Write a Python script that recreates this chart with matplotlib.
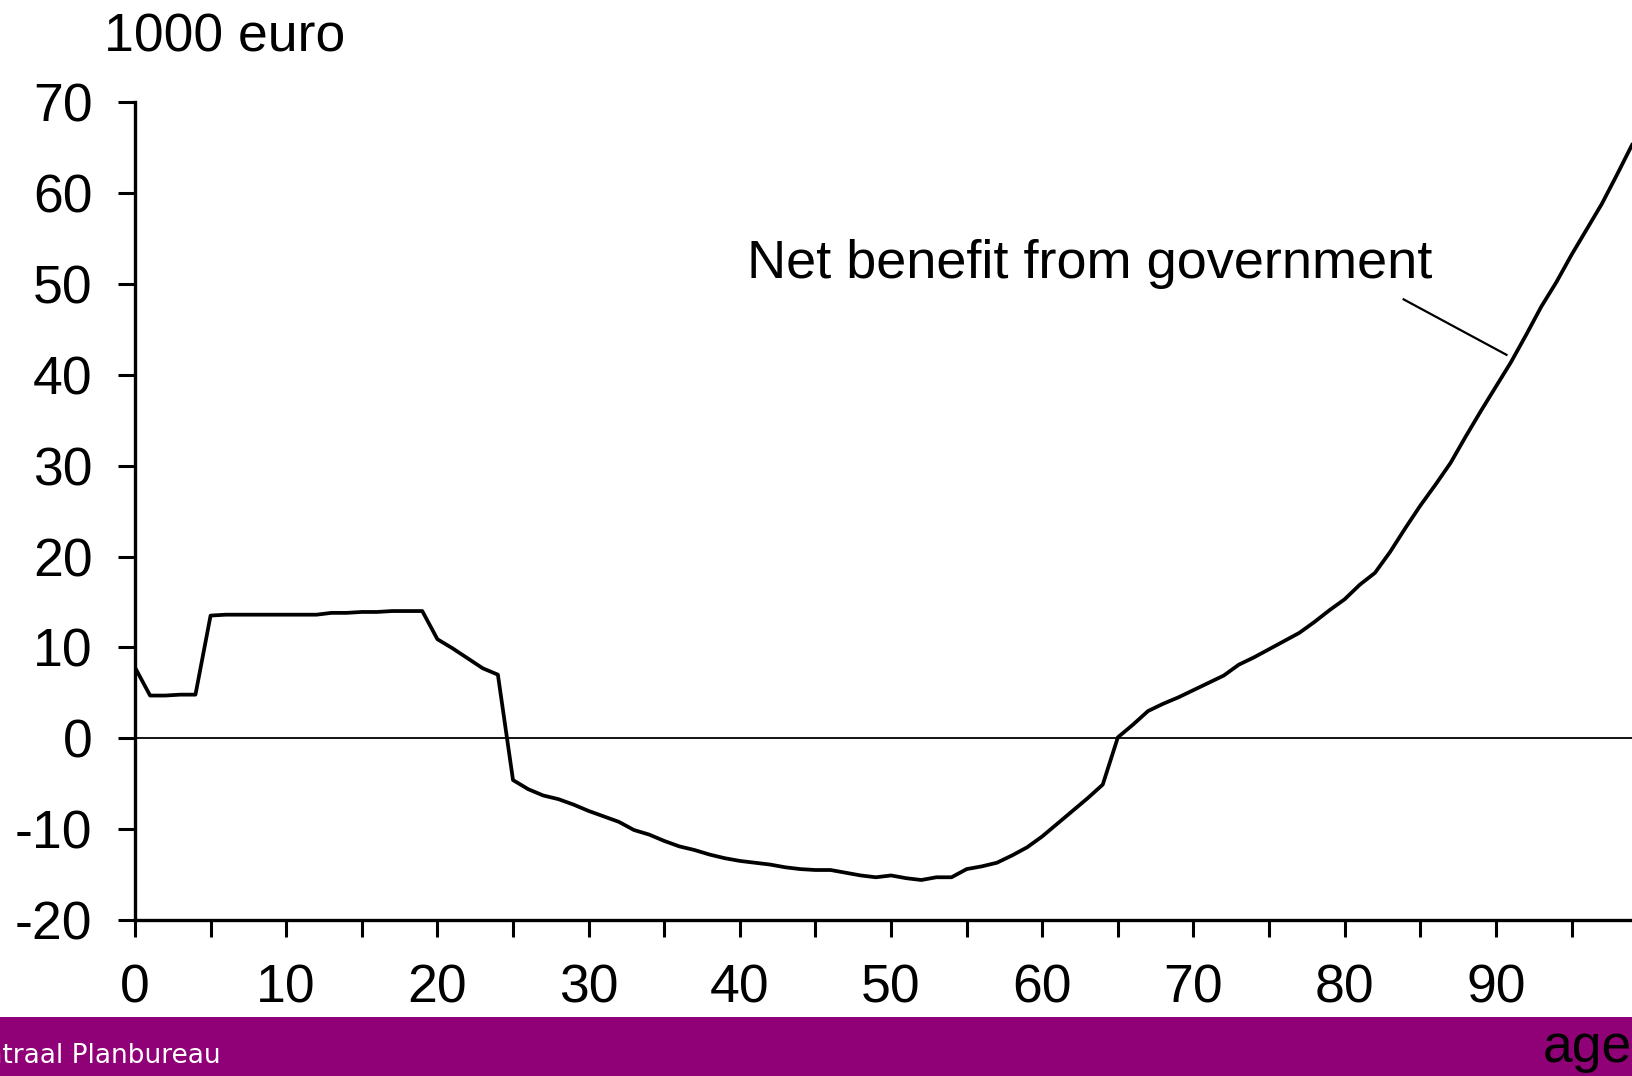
import numpy as np
import matplotlib.pyplot as plt
from matplotlib.patches import Rectangle

plt.rcParams['font.family'] = ['Liberation Sans', 'DejaVu Sans']
plt.rcParams['axes.unicode_minus'] = False

# leeftijd 0..99
ages = np.arange(0, 100)
net_benefit = [
    7.8, 4.7, 4.7, 4.8, 4.8, 13.5, 13.6, 13.6, 13.6, 13.6,
    13.6, 13.6, 13.6, 13.8, 13.8, 13.9, 13.9, 14.0, 14.0, 14.0,
    10.9, 9.9, 8.8, 7.7, 7.0, -4.6, -5.6, -6.3, -6.7, -7.3,
    -8.0, -8.6, -9.2, -10.1, -10.6, -11.3, -11.9, -12.3, -12.8, -13.2,
    -13.5, -13.7, -13.9, -14.2, -14.4, -14.5, -14.5, -14.8, -15.1, -15.3,
    -15.1, -15.4, -15.6, -15.3, -15.3, -14.4, -14.1, -13.7, -12.9, -12.0,
    -10.8, -9.4, -8.0, -6.6, -5.1, 0.1, 1.5, 3.0, 3.8, 4.5,
    5.3, 6.1, 6.9, 8.1, 8.9, 9.8, 10.7, 11.6, 12.8, 14.1,
    15.3, 16.9, 18.2, 20.5, 23.1, 25.6, 27.9, 30.3, 33.2, 36.0,
    38.7, 41.4, 44.4, 47.5, 50.2, 53.2, 56.0, 58.8, 62.0, 65.3,
]
xticks = np.arange(0, 100, 10)
yticks = np.arange(-20, 71, 10)

fig = plt.figure(figsize=(16.32, 10.76), dpi=100)
ax = fig.add_axes([0.0827, 0.145, 1 - 0.0827, 0.905 - 0.145])

ax.plot(ages, net_benefit, color='black', linewidth=2.7)
ax.axhline(0, color='black', linewidth=1.3)

ax.set_xlim(0, 99)
ax.set_ylim(-20, 70)
ax.set_xticks(xticks)
ax.set_xticks(np.arange(5, 100, 10), minor=True)
ax.set_yticks(yticks)
ax.tick_params(axis='both', which='both', direction='out', length=12.5, width=2.2,
               labelsize=38.5)
ax.tick_params(axis='x', pad=19)
ax.tick_params(axis='y', pad=18)
for side in ['top', 'right']:
    ax.spines[side].set_visible(False)
for side in ['left', 'bottom']:
    ax.spines[side].set_linewidth(2.4)

ax.text(40.45, 50.7, 'Net benefit from government', fontsize=39, va='baseline', ha='left')
ax.plot([83.9, 90.7], [48.3, 42.2], color='black', linewidth=1.6)

fig.text(104 / 1632, 0.952, '1000 euro', fontsize=38.5, va='baseline', ha='left')

# paarse balk onderaan
fig.patches.append(Rectangle((0, 0), 1, 0.0551, transform=fig.transFigure,
                             facecolor='#900076', edgecolor='none', zorder=0))
fig.text(221 / 1632, 0.0125, 'Centraal Planbureau', fontsize=19, color='white',
         family='DejaVu Sans', ha='right', va='baseline')
fig.text(1543 / 1632, 0.013, 'age', fontsize=38.5, color='black', ha='left', va='baseline')

plt.savefig('out.png', dpi=100)
